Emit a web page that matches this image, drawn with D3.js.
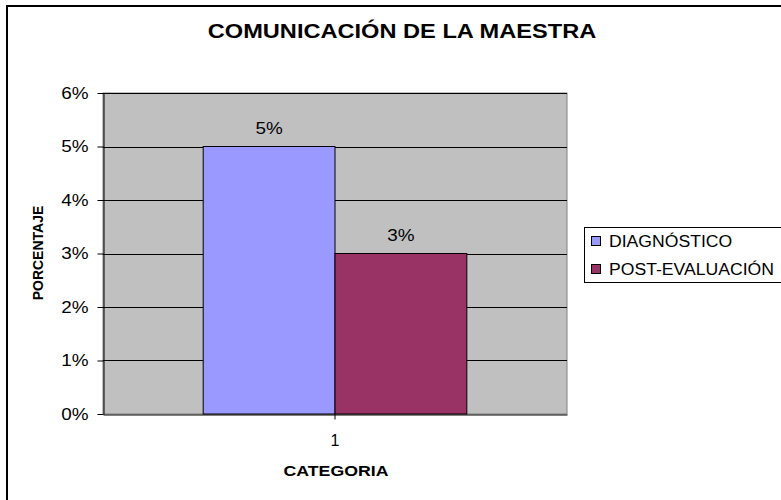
<!DOCTYPE html>
<html><head><meta charset="utf-8">
<script src="https://cdn.jsdelivr.net/npm/d3@7"></script>
<style>body{margin:0;background:#fff}svg{display:block;font-family:"Liberation Sans",Arial,sans-serif}</style>
</head><body>
<svg id="c" width="781" height="500"></svg>
<script>
const categories = ["1"];
const seriesNames = ["DIAGNÓSTICO", "POST-EVALUACIÓN"];
const seriesValues = [0.05, 0.03];
const seriesColors = ["#9999FF", "#993366"];
const yTicks = [0, 0.01, 0.02, 0.03, 0.04, 0.05, 0.06];

const svg = d3.select("#c");
const m = {left: 103, right: 567, top: 93, bottom: 414};
const stretch = sel => sel.each(function () {
  const w = this.getComputedTextLength();
  d3.select(this).attr("textLength", w * 1.18).attr("lengthAdjust", "spacingAndGlyphs");
});

svg.append("path").attr("d", "M7,500 L7,6 L781,6").attr("fill", "none").attr("stroke", "#000").attr("stroke-width", 2);

svg.append("text").attr("x", 402).attr("y", 38).attr("text-anchor", "middle")
  .attr("font-weight", "bold").attr("font-size", 20).text("COMUNICACIÓN DE  LA MAESTRA").call(stretch);

const y = d3.scaleLinear().domain([0, 0.06]).range([m.bottom, m.top]);
const x0 = d3.scaleBand().domain(categories).range([m.left, m.right]);
const x1 = d3.scaleBand().domain(seriesNames).range([0, x0.bandwidth()]).paddingOuter(0.76).paddingInner(0);

svg.append("rect").attr("x", m.left).attr("y", m.top).attr("width", m.right - m.left).attr("height", m.bottom - m.top)
  .attr("fill", "#C0C0C0").attr("stroke", "#808080").attr("stroke-width", 1);

svg.append("g").selectAll("line").data(yTicks.slice(1)).join("line")
  .attr("x1", m.left).attr("x2", m.right).attr("y1", d => Math.round(y(d)) + 0.5).attr("y2", d => Math.round(y(d)) + 0.5)
  .attr("stroke", "#000").attr("stroke-width", 1);

const yAxis = svg.append("g").attr("transform", `translate(${m.left + 0.5},0)`)
  .call(d3.axisLeft(y).tickValues(yTicks).tickFormat(d3.format(".0%")).tickSize(6).tickSizeOuter(0));
yAxis.select(".domain").attr("stroke", "#000");
yAxis.selectAll("text").attr("font-size", 16).attr("font-family", "Liberation Sans, Arial").attr("fill", "#000").attr("x", -15).call(stretch);

const cat = categories[0];
svg.append("g").selectAll("rect").data(seriesValues).join("rect")
  .attr("x", (d, i) => x0(cat) + x1(seriesNames[i]))
  .attr("y", d => y(d))
  .attr("width", x1.bandwidth())
  .attr("height", d => y(0) - y(d))
  .attr("fill", (d, i) => seriesColors[i]).attr("stroke", "#000").attr("stroke-width", 1);

svg.append("g").selectAll("text").data(seriesValues).join("text")
  .attr("x", (d, i) => x0(cat) + x1(seriesNames[i]) + x1.bandwidth() / 2)
  .attr("y", d => y(d) - 13)
  .attr("text-anchor", "middle").attr("font-size", 16).text(d => d3.format(".0%")(d)).call(stretch);

const xAxis = svg.append("g").attr("transform", `translate(0,${m.bottom + 0.5})`)
  .call(d3.axisBottom(x0).tickSize(5).tickSizeOuter(0));
xAxis.select(".domain").attr("stroke", "#000");
xAxis.selectAll("text").attr("font-size", 16).attr("font-family", "Liberation Sans, Arial").attr("fill", "#000").attr("dy", null).attr("y", 31);

svg.append("text").attr("x", 336).attr("y", 476).attr("text-anchor", "middle")
  .attr("font-weight", "bold").attr("font-size", 15).text("CATEGORIA").call(stretch);
svg.append("text").attr("transform", "translate(43,253) rotate(-90)").attr("text-anchor", "middle")
  .attr("font-weight", "bold").attr("font-size", 14).text("PORCENTAJE");

// legend
svg.append("rect").attr("x", 584.5).attr("y", 227.5).attr("width", 220).attr("height", 55)
  .attr("fill", "#fff").attr("stroke", "#000").attr("stroke-width", 1);
const lg = svg.append("g").selectAll("g").data(seriesNames).join("g")
  .attr("transform", (d, i) => `translate(591,${236 + i * 28})`);
lg.append("rect").attr("x", 0.5).attr("y", 0.5).attr("width", 9).attr("height", 9)
  .attr("fill", (d, i) => seriesColors[i]).attr("stroke", "#000");
lg.append("text").attr("x", 18).attr("y", 11).attr("font-size", 16).text(d => d)
  .each(function () { d3.select(this).attr("textLength", this.getComputedTextLength() * 1.1).attr("lengthAdjust", "spacingAndGlyphs"); });
</script>
</body></html>
